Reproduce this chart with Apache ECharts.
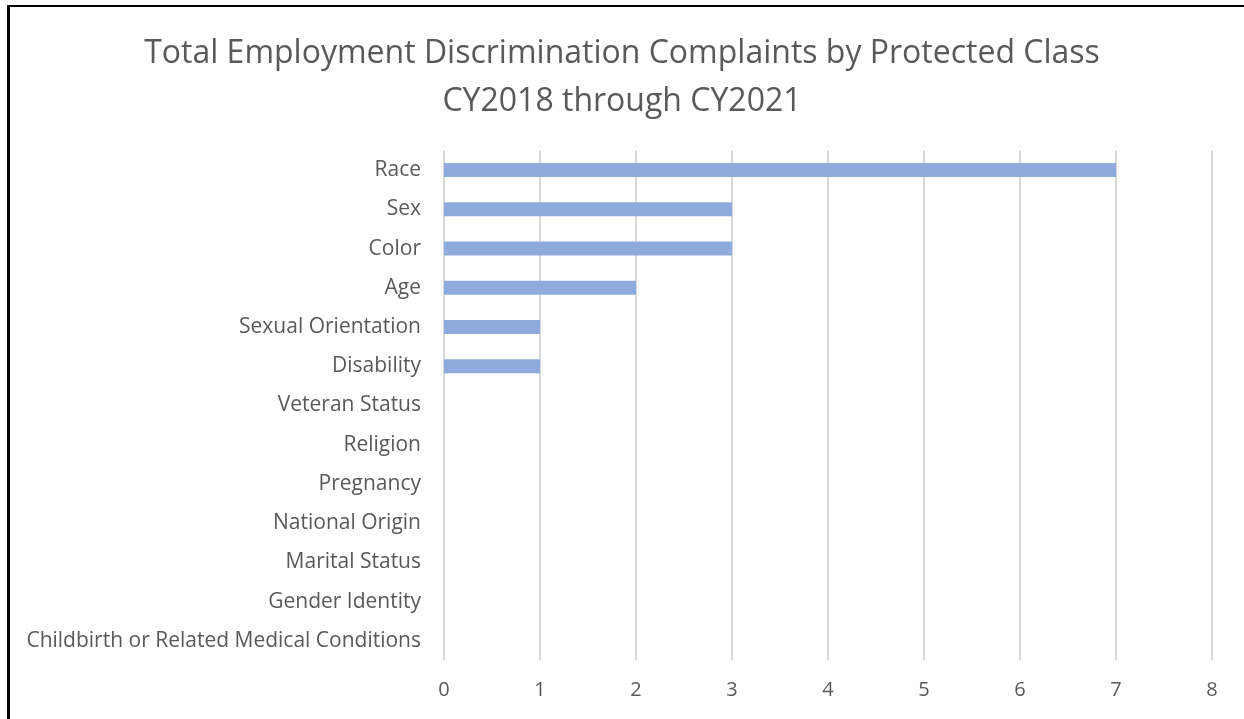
<!DOCTYPE html>
<html><head><meta charset="utf-8">
<script src="https://cdn.jsdelivr.net/npm/echarts@6/dist/echarts.min.js"></script>
<style>
html,body{margin:0;padding:0;background:#fff;}
#frame{position:absolute;left:7px;top:5px;width:1237px;height:714px;border-left:3px solid #000;border-top:2px solid #000;box-sizing:border-box;}
#c{position:absolute;left:0;top:0;width:1244px;height:719px;}
</style></head>
<body>
<div id="c"></div>
<div id="frame"></div>
<script>
const categories = ["Race","Sex","Color","Age","Sexual Orientation","Disability","Veteran Status","Religion","Pregnancy","National Origin","Marital Status","Gender Identity","Childbirth or Related Medical Conditions"];
const values = [7,3,3,2,1,1,0,0,0,0,0,0,0];
const titleText = "Total Employment Discrimination Complaints by Protected Class\nCY2018 through CY2021";
const xTicks = [0,1,2,3,4,5,6,7,8];

const chart = echarts.init(document.getElementById('c'));
chart.setOption({
  animation:false,
  title:{text:titleText,left:'center',top:25,textStyle:{fontFamily:'Open Sans',fontSize:32,fontWeight:'normal',color:'#595959',lineHeight:48}},
  grid:{left:444,right:32,top:150.5,bottom:58.5,containLabel:false},
  xAxis:{type:'value',min:xTicks[0],max:xTicks[xTicks.length-1],interval:1,
    axisLine:{show:false},axisTick:{show:false},
    axisLabel:{margin:20,fontFamily:'Open Sans',fontSize:20,color:'#595959'},
    splitLine:{lineStyle:{color:'#d9d9d9',width:2}}},
  yAxis:{type:'category',data:categories,inverse:true,
    axisLine:{show:false},axisTick:{show:false},
    axisLabel:{margin:23,fontFamily:'Open Sans',fontSize:21,color:'#595959'}},
  series:[{type:'bar',data:values,barWidth:14,itemStyle:{color:'#8faadc'}}]
});
</script>
</body></html>
